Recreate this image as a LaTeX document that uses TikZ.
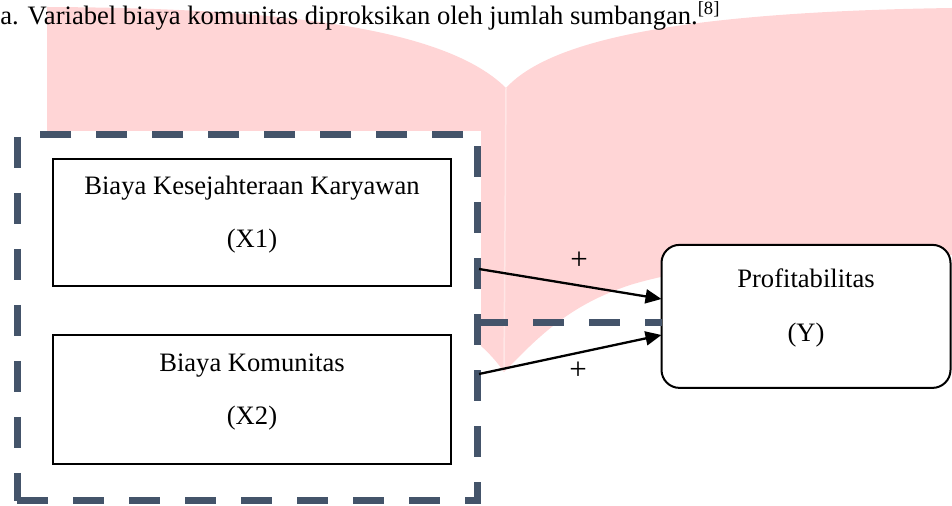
\documentclass[tikz,border=0pt]{standalone}
\usepackage{fontspec}
\setmainfont{Liberation Serif}
\usetikzlibrary{arrows.meta}
\definecolor{wmpink}{RGB}{255,213,214}
\definecolor{wmline}{RGB}{255,230,230}
\definecolor{slate}{RGB}{68,84,106}
\begin{document}
\begin{tikzpicture}[x=0.5pt,y=-0.5pt,
  font=\fontsize{13.3}{16}\selectfont,
  box/.style={draw=black, line width=1pt, fill=white, inner sep=0pt, outer sep=0pt},
  ybox/.style={box, rounded corners=9pt},
  lbl/.style={anchor=base, inner sep=0pt},
  grpfill/.style={fill=white, draw=white, line width=3.5pt, inner sep=0pt, outer sep=0pt},
  grpdash/.style={draw=slate, line width=3.5pt, dash pattern=on 15.5pt off 12.5pt},
  arr/.style={line width=1.15pt, -{Triangle[length=8pt,width=7pt]}},
  plus/.style={inner sep=0pt, font=\fontsize{15.5}{18}\selectfont}]
\useasboundingbox (0,0) rectangle (952,506);
% watermark
\fill[wmpink] (47,7) .. controls (250,8) and (440,22) .. (506,88)
  .. controls (550,40) and (680,12) .. (952,8) -- (952,255)
  .. controls (850,255) and (720,258) .. (630,285)
  .. controls (570,305) and (540,335) .. (504,372)
  .. controls (468,320) and (380,262) .. (47,255) -- cycle;
\draw[wmline, line width=0.75pt] (506,88) -- (504,372);
% caption line
\node[lbl, anchor=base west] (cap) at (0,25) {a. Variabel biaya komunitas diproksikan oleh jumlah sumbangan.\textsuperscript{[8]}};
% group box
\node[grpfill, minimum width=230pt, minimum height=183pt] (grp) at (247,318) {};
\draw[grpdash] (grp.south west) -- (grp.south east) -- (grp.north east) -- (grp.north west) -- cycle;
% boxes
\node[box, minimum width=199pt, minimum height=63.5pt] (x1) at (252,223) {};
\node[box, minimum width=199pt, minimum height=64.5pt] (x2) at (252,400) {};
\node[ybox, minimum width=144.5pt, minimum height=71.5pt] (y) at (806,316.4) {};
% texts
\node[lbl] (x1a) at (252,195) {Biaya Kesejahteraan Karyawan};
\node[lbl] (x1b) at (252,247.7) {(X1)};
\node[lbl] (x2a) at (252,371.7) {Biaya Komunitas};
\node[lbl] (x2b) at (252,425) {(X2)};
\node[lbl] (ya) at (806,287.3) {Profitabilitas};
\node[lbl] (yb) at (806,341.7) {(Y)};
% connectors
\coordinate (dl) at (477,323);
\draw[grpdash] (dl) -- (dl -| y.west);
\coordinate (a1s) at (479,269);
\coordinate (a1e) at (661,299);
\coordinate (a2s) at (479,374);
\coordinate (a2e) at (661,335);
\draw[arr] (a1s) -- (a1e -| y.west);
\draw[arr] (a2s) -- (a2e -| y.west);
\node[plus] (p1) at (579,261) {+};
\node[plus] (p2) at (578,371) {+};
\end{tikzpicture}
\end{document}
